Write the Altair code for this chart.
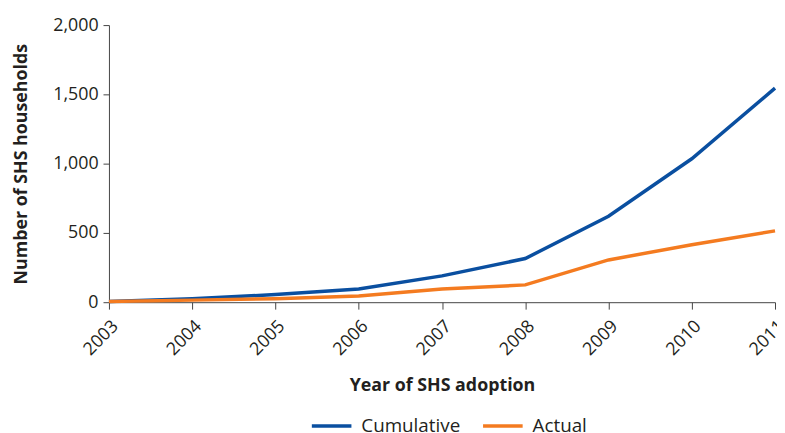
import altair as alt
import pandas as pd

years = [2003, 2004, 2005, 2006, 2007, 2008, 2009, 2010, 2011]
cumulative = [5, 25, 55, 95, 190, 315, 620, 1035, 1545]
actual = [5, 15, 25, 45, 95, 125, 305, 415, 515]
series = ["Cumulative", "Actual"]
colors = ["#0A4FA0", "#F47B20"]

df = pd.DataFrame({
    "year": years * 2,
    "value": cumulative + actual,
    "series": [series[0]] * len(years) + [series[1]] * len(years),
})

FONT = "Open Sans"
TXT = "#231F20"

chart = alt.Chart(df).mark_line(strokeWidth=3.5).encode(
    x=alt.X("year:Q",
            scale=alt.Scale(domain=[2003, 2011], nice=False, zero=False),
            axis=alt.Axis(values=years, format="d", labelAngle=315, title="Year of SHS adoption",
                          tickSize=7, labelPadding=8, titlePadding=18, grid=False,
                          domainColor="#444", tickColor="#444")),
    y=alt.Y("value:Q",
            scale=alt.Scale(domain=[0, 2000], nice=False),
            axis=alt.Axis(values=[0, 500, 1000, 1500, 2000], format=",d", title="Number of SHS households",
                          tickSize=6, labelPadding=5, titlePadding=22, grid=False,
                          domainColor="#444", tickColor="#444")),
    color=alt.Color("series:N",
                    scale=alt.Scale(domain=series, range=colors),
                    sort=series,
                    legend=alt.Legend(title=None, orient="none", direction="horizontal",
                                      legendX=203, legendY=383, padding=0,
                                      symbolType="stroke", symbolSize=1600, symbolStrokeWidth=3.5,
                                      labelFontSize=19, labelFont=FONT, labelColor=TXT,
                                      labelOffset=8, columnPadding=16)),
    order=alt.value(0),
).properties(
    width=673, height=280,
    autosize=alt.AutoSizeParams(type="none"),
    padding={"left": 102, "top": 15, "right": 2, "bottom": 140},
).configure_view(stroke=None).configure_axis(
    labelFont=FONT, titleFont=FONT, labelFontSize=18, titleFontSize=18,
    labelColor=TXT, titleColor=TXT, titleFontWeight="bold",
)

chart.save("out.html", embed_options={"renderer": "svg", "actions": False})
